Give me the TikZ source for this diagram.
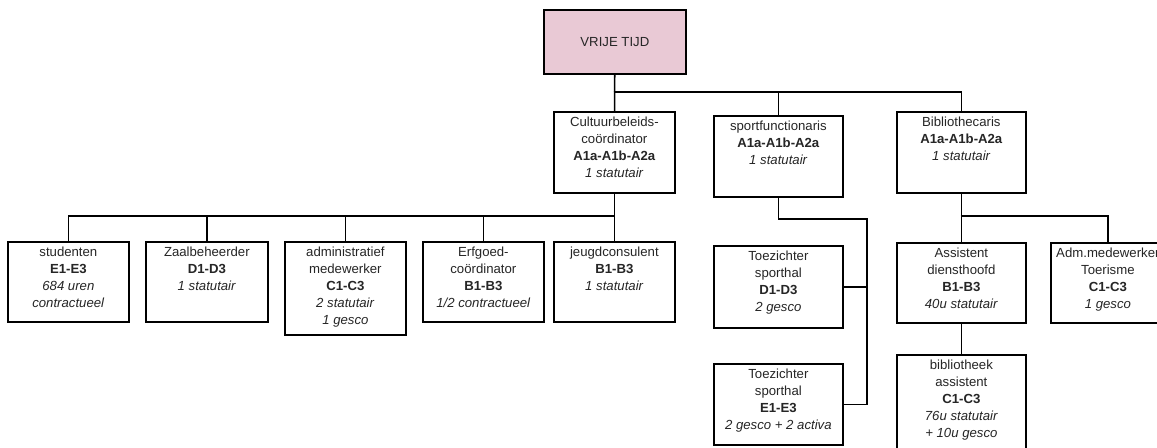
\documentclass[tikz,border=0pt]{standalone}
\usepackage{fontspec}
\setmainfont{Liberation Sans}
\usetikzlibrary{positioning}
\definecolor{leisurepink}{RGB}{233,201,213}
% text of a unit, top aligned in a box of fixed size
\newcommand{\celltext}[3]{\parbox[c][#2][t]{#1}{\centering\vspace*{3pt}#3}}
\tikzset{
  font=\fontsize{7.5}{9.6}\selectfont,
  % Organisation unit
  unit/.style={draw, line width=1pt, fill=white, inner sep=0pt,
    anchor=north west, text=black!85},
  % Department head box
  head/.style={unit, fill=leisurepink},
  % Connectors
  link/.style={line width=0.9pt},
}

\begin{document}
\begin{tikzpicture}[x=0.02cm, y=-0.02cm]
    \clip (0,0) rectangle (1157,447);
    \useasboundingbox (0,0) rectangle (1157,447);

    \node[head] (vrije) at (543,9)
      {\parbox[c][1.28cm][c]{2.84cm}{\centering VRIJE TIJD}};

    % first level
    \node[unit] (cultuur) at (553,111) {\celltext{2.42cm}{1.62cm}{%
        Cultuurbeleids-\\coördinator\\\textbf{A1a-A1b-A2a}\\\textit{1 statutair}}};
    \node[unit] (sport) at (713,115) {\celltext{2.58cm}{1.62cm}{%
        sportfunctionaris\\\textbf{A1a-A1b-A2a}\\\textit{1 statutair}}};
    \node[unit] (biblio) at (896,111) {\celltext{2.58cm}{1.62cm}{%
        Bibliothecaris\\\textbf{A1a-A1b-A2a}\\\textit{1 statutair}}};

    % culture
    \node[unit] (studenten) at (7,241) {\celltext{2.42cm}{1.6cm}{%
        studenten\\\textbf{E1-E3}\\\textit{684 uren}\\\textit{contractueel}}};
    \node[unit] (zaal) at (145,241) {\celltext{2.44cm}{1.6cm}{%
        Zaalbeheerder\\\textbf{D1-D3}\\\textit{1 statutair}}};
    \node[unit] (admin) at (284,241) {\celltext{2.42cm}{1.86cm}{%
        administratief\\medewerker\\\textbf{C1-C3}\\\textit{2 statutair}\\\textit{1 gesco}}};
    \node[unit] (erfgoed) at (422,241) {\celltext{2.42cm}{1.6cm}{%
        Erfgoed-\\coördinator\\\textbf{B1-B3}\\\textit{1/2 contractueel}}};
    \node[unit] (jeugd) at (553,241) {\celltext{2.42cm}{1.6cm}{%
        jeugdconsulent\\\textbf{B1-B3}\\\textit{1 statutair}}};

    % sport
    \node[unit] (toezD) at (713,245) {\celltext{2.58cm}{1.64cm}{%
        Toezichter\\sporthal\\\textbf{D1-D3}\\\textit{2 gesco}}};
    \node[unit] (toezE) at (713,363) {\celltext{2.58cm}{1.62cm}{%
        Toezichter\\sporthal\\\textbf{E1-E3}\\\textit{2 gesco + 2 activa}}};

    % library
    \node[unit] (assist) at (896,242) {\celltext{2.58cm}{1.6cm}{%
        Assistent\\diensthoofd\\\textbf{B1-B3}\\\textit{40u statutair}}};
    \node[unit] (adm) at (1050,242) {\celltext{2.28cm}{1.6cm}{%
        Adm.medewerker\\Toerisme\\\textbf{C1-C3}\\\textit{1 gesco}}};
    \node[unit] (bibass) at (896,354) {\celltext{2.58cm}{2.2cm}{%
        bibliotheek\\assistent\\\textbf{C1-C3}\\\textit{76u statutair}\\\textit{+ 10u gesco}}};

    \coordinate (bus0) at (613.5,92);
    \coordinate (bus1) at (613.5,216);
    \coordinate (sportbus) at (867,219);
    \coordinate (libbus) at (960.5,216);

    \draw[link] (vrije) -- (cultuur);
    \draw[link] (bus0) -| (sport.north);
    \draw[link] (bus0) -| (biblio.north);

    \draw[link] (cultuur) -- (jeugd);
    \foreach \n in {studenten, zaal, admin, erfgoed}
      \draw[link] (bus1) -| (\n.north);

    \draw[link] (sport.south) |- (sportbus) -- (sportbus |- toezE.east) -- (toezE.east);
    \draw[link] (toezD.east) -- (toezD.east -| sportbus);

    \draw[link] (biblio) -- (assist);
    \draw[link] (libbus) -| (adm.north);
    \draw[link] (assist) -- (bibass);
\end{tikzpicture}
\end{document}
